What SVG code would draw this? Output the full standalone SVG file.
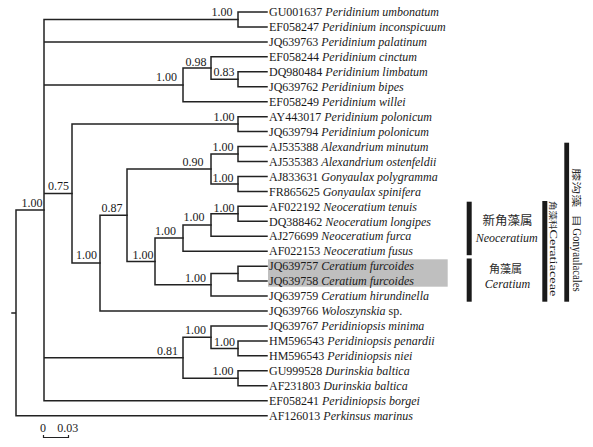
<svg xmlns="http://www.w3.org/2000/svg" width="593" height="447" viewBox="0 0 593 447">
<style>
text{font-family:"Liberation Serif","Times New Roman",serif;font-size:12px;fill:#1a1a1a}
.b{text-anchor:end}
.i{font-style:italic}
.cjk{font-family:"Liberation Serif","Noto Sans CJK SC",sans-serif;fill:#2a2a2a}
.bar{fill:#1a1a1a}
</style>
<rect x="268" y="259.3" width="179.7" height="27.4" fill="#bfbfbf"/>
<g id="connectors" fill="none" stroke="#222" stroke-width="1.5" stroke-linecap="square">
<path d="M12,312.9H16M16,210.1V415.65M16,210.1H44M16,415.65H267"/>
<path d="M44,19.5V400.7M44,19.5H238M44,41.9H267M44,84.9H183M44,193.6H72M44,357.7H183M44,400.7H267"/>
<path d="M238,12V26.95M238,12H267M238,26.95H267"/>
<path d="M183,68.1V101.7M183,68.1H211M183,101.7H267"/>
<path d="M211,56.85V79.3M211,56.85H267M211,79.3H238"/>
<path d="M238,71.8V86.75M238,71.8H267M238,86.75H267"/>
<path d="M72,124.1V263.1M72,124.1H238M72,263.1H100"/>
<path d="M238,116.65V131.6M238,116.65H267M238,131.6H267"/>
<path d="M100,215.2V311M100,215.2H127M100,311H267"/>
<path d="M127,169V261.5M127,169H211M127,261.5H155"/>
<path d="M211,154V183.9M211,154H238M211,183.9H238"/>
<path d="M238,146.55V161.5M238,146.55H267M238,161.5H267"/>
<path d="M238,176.45V191.4M238,176.45H267M238,191.4H267"/>
<path d="M155,238.1V284.8M155,238.1H183M155,284.8H211"/>
<path d="M183,225V251.2M183,225H211M183,251.2H267"/>
<path d="M211,213.8V236.25M211,213.8H238M211,236.25H267"/>
<path d="M238,206.35V221.3M238,206.35H267M238,221.3H267"/>
<path d="M211,273.6V296.05M211,273.6H238M211,296.05H267"/>
<path d="M238,266.15V281.1M238,266.15H267M238,281.1H267"/>
<path d="M183,337.2V378.3M183,337.2H211M183,378.3H238"/>
<path d="M211,325.95V348.4M211,325.95H267M211,348.4H238"/>
<path d="M238,340.9V355.85M238,340.9H267M238,355.85H267"/>
<path d="M238,370.8V385.75M238,370.8H267M238,385.75H267"/>
</g>
<g id="support">
<text class="b" x="232.5" y="16">1.00</text>
<text class="b" x="206.5" y="65.5">0.98</text>
<text class="b" x="234.5" y="76">0.83</text>
<text class="b" x="177" y="81">1.00</text>
<text class="b" x="234.5" y="121">1.00</text>
<text class="b" x="233.5" y="150.5">1.00</text>
<text class="b" x="233.5" y="181.5">1.00</text>
<text class="b" x="203.5" y="165.5">0.90</text>
<text class="b" x="234.5" y="211.5">1.00</text>
<text class="b" x="204.5" y="220.5">1.00</text>
<text class="b" x="176" y="235">1.00</text>
<text class="b" x="153.5" y="259">1.00</text>
<text class="b" x="122.5" y="212">0.87</text>
<text class="b" x="97" y="259">1.00</text>
<text class="b" x="69" y="190">0.75</text>
<text class="b" x="42.5" y="207">1.00</text>
<text class="b" x="206" y="281.5">1.00</text>
<text class="b" x="206" y="334">1.00</text>
<text class="b" x="235" y="345.5">1.00</text>
<text class="b" x="233.5" y="375">1.00</text>
<text class="b" x="178" y="355">0.81</text>
</g>
<g id="leaves">
<text id="n1" x="269" y="16.2">GU001637 <tspan class="i">Peridinium umbonatum</tspan></text>
<text id="n2" x="269" y="31.15">EF058247 <tspan class="i">Peridinium inconspicuum</tspan></text>
<text id="n3" x="269" y="46.1">JQ639763 <tspan class="i">Peridinium palatinum</tspan></text>
<text id="n4" x="269" y="61.05">EF058244 <tspan class="i">Peridinium cinctum</tspan></text>
<text id="n5" x="269" y="76">DQ980484 <tspan class="i">Peridinium limbatum</tspan></text>
<text id="n6" x="269" y="90.95">JQ639762 <tspan class="i">Peridinium bipes</tspan></text>
<text id="n7" x="269" y="105.9">EF058249 <tspan class="i">Peridinium willei</tspan></text>
<text id="n8" x="269" y="120.85">AY443017 <tspan class="i">Peridinium polonicum</tspan></text>
<text id="n9" x="269" y="135.8">JQ639794 <tspan class="i">Peridinium polonicum</tspan></text>
<text id="n10" x="269" y="150.75">AJ535388 <tspan class="i">Alexandrium minutum</tspan></text>
<text id="n11" x="269" y="165.7">AJ535383 <tspan class="i">Alexandrium ostenfeldii</tspan></text>
<text id="n12" x="269" y="180.65">AJ833631 <tspan class="i">Gonyaulax polygramma</tspan></text>
<text id="n13" x="269" y="195.6">FR865625 <tspan class="i">Gonyaulax spinifera</tspan></text>
<text id="n14" x="269" y="210.55">AF022192 <tspan class="i">Neoceratium tenuis</tspan></text>
<text id="n15" x="269" y="225.5">DQ388462 <tspan class="i">Neoceratium longipes</tspan></text>
<text id="n16" x="269" y="240.45">AJ276699 <tspan class="i">Neoceratium furca</tspan></text>
<text id="n17" x="269" y="255.4">AF022153 <tspan class="i">Neoceratium fusus</tspan></text>
<text id="n18" x="269" y="270.35">JQ639757 <tspan class="i">Ceratium furcoides</tspan></text>
<text id="n19" x="269" y="285.3">JQ639758 <tspan class="i">Ceratium furcoides</tspan></text>
<text id="n20" x="269" y="300.25">JQ639759 <tspan class="i">Ceratium hirundinella</tspan></text>
<text id="n21" x="269" y="315.2">JQ639766 <tspan class="i">Woloszynskia</tspan> sp.</text>
<text id="n22" x="269" y="330.15">JQ639767 <tspan class="i">Peridiniopsis minima</tspan></text>
<text id="n23" x="269" y="345.1">HM596543 <tspan class="i">Peridiniopsis penardii</tspan></text>
<text id="n24" x="269" y="360.05">HM596543 <tspan class="i">Peridiniopsis niei</tspan></text>
<text id="n25" x="269" y="375">GU999528 <tspan class="i">Durinskia baltica</tspan></text>
<text id="n26" x="269" y="389.95">AF231803 <tspan class="i">Durinskia baltica</tspan></text>
<text id="n27" x="269" y="404.9">EF058241 <tspan class="i">Peridiniopsis borgei</tspan></text>
<text id="n28" x="269" y="419.85">AF126013 <tspan class="i">Perkinsus marinus</tspan></text>
</g>
<g id="scale">
<path d="M43.5,435V437.5H68.5V435" fill="none" stroke="#222" stroke-width="1.2"/>
<text x="43" y="431.5" text-anchor="middle">0</text>
<text x="57.3" y="431.5">0.03</text>
</g>
<g id="neoceratium">
<rect class="bar" x="466.7" y="201.7" width="5" height="53.5"/>
<text class="cjk" x="507.5" y="224.5" font-size="12.5" style="font-size:12.5px" text-anchor="middle">新角藻属</text>
<text class="i" x="506.7" y="241.5" text-anchor="middle">Neoceratium</text>
</g>
<g id="ceratium">
<rect class="bar" x="466.7" y="258.5" width="5" height="43.2"/>
<text class="cjk" x="505.5" y="272.5" style="font-size:11px" text-anchor="middle">角藻属</text>
<text class="i" x="507.5" y="288" text-anchor="middle">Ceratium</text>
</g>
<g id="ceratiaceae">
<rect class="bar" x="542.3" y="201" width="5" height="100.7"/>
<g transform="translate(550.3,201) rotate(90)">
<text class="cjk" x="0" y="0" transform="scale(1,0.8)" style="font-size:9.5px">角藻科</text>
<text x="28.5" y="0" style="font-size:11px" textLength="67" lengthAdjust="spacingAndGlyphs">Ceratiaceae</text>
</g>
</g>
<g id="gonyaulacales">
<rect class="bar" x="564.3" y="142.7" width="4.8" height="159"/>
<g transform="translate(573,168.3) rotate(90)">
<text class="cjk" x="0" y="0" transform="scale(1,0.72)" style="font-size:13px">膝沟藻</text>
<text class="cjk" x="46.5" y="0" transform="scale(1,0.72)" style="font-size:12px">目</text>
<text x="60" y="0" textLength="63.4" lengthAdjust="spacingAndGlyphs">Gonyaulacales</text>
</g>
</g>
</svg>
